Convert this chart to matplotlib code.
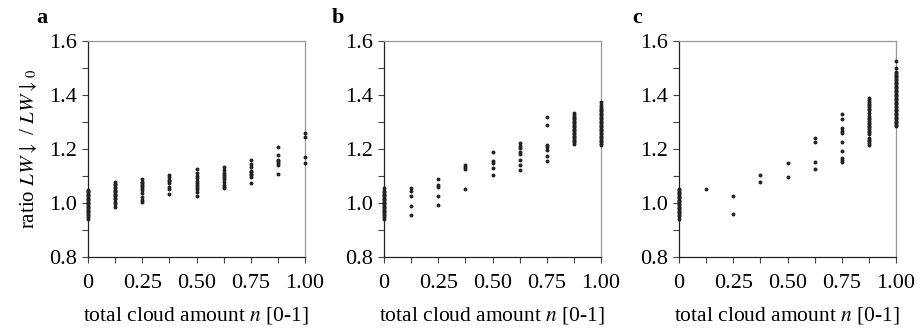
import matplotlib
matplotlib.use("Agg")
import matplotlib.pyplot as plt
from matplotlib.ticker import MultipleLocator, FixedLocator

plt.rcParams['font.family'] = ['Liberation Serif', 'DejaVu Serif']
plt.rcParams['mathtext.fontset'] = 'stix'

# cloud amount in octas -> fraction 0..1
octas = [0, 1, 2, 3, 4, 5, 6, 7, 8]

# panel a: ratio LW/LW0 per cloud class
ratio_a = [
    [0.94, 0.95, 0.955, 0.96, 0.965, 0.97, 0.975, 0.98, 0.985, 0.99, 0.995, 1.0,
     1.005, 1.01, 1.015, 1.02, 1.025, 1.03, 1.035, 1.04, 1.045, 1.05],
    [0.985, 0.995, 1.005, 1.015, 1.02, 1.025, 1.03, 1.035, 1.04, 1.045, 1.05,
     1.055, 1.06, 1.065, 1.07, 1.079],
    [1.005, 1.011, 1.023, 1.036, 1.048, 1.054, 1.062, 1.067, 1.073, 1.079, 1.088],
    [1.032, 1.051, 1.060, 1.073, 1.080, 1.085, 1.095, 1.104],
    [1.026, 1.042, 1.051, 1.060, 1.068, 1.073, 1.083, 1.091, 1.100, 1.110, 1.125],
    [1.054, 1.060, 1.067, 1.079, 1.088, 1.095, 1.102, 1.110, 1.122, 1.135],
    [1.073, 1.095, 1.102, 1.107, 1.115, 1.120, 1.132, 1.144, 1.159],
    [1.107, 1.141, 1.149, 1.155, 1.159, 1.178, 1.206],
    [1.149, 1.172, 1.246, 1.258],
]

# panel b
ratio_b = [
    [0.94, 0.95, 0.955, 0.96, 0.965, 0.97, 0.975, 0.98, 0.985, 0.99, 0.995, 1.0,
     1.005, 1.01, 1.015, 1.02, 1.025, 1.03, 1.035, 1.04, 1.045, 1.054],
    [0.956, 0.989, 1.026, 1.045, 1.054],
    [0.993, 1.027, 1.061, 1.067, 1.088],
    [1.053, 1.125, 1.133, 1.140],
    [1.104, 1.128, 1.147, 1.156, 1.190],
    [1.122, 1.141, 1.159, 1.182, 1.190, 1.204, 1.211, 1.221],
    [1.157, 1.174, 1.196, 1.206, 1.215, 1.289, 1.317],
    [1.219, 1.225, 1.23, 1.235, 1.24, 1.245, 1.25, 1.255, 1.26, 1.265, 1.27,
     1.275, 1.28, 1.285, 1.29, 1.295, 1.30, 1.305, 1.31, 1.315, 1.32, 1.326, 1.332],
    [1.215, 1.22, 1.225, 1.23, 1.235, 1.24, 1.245, 1.25, 1.255, 1.26, 1.265,
     1.27, 1.275, 1.28, 1.285, 1.29, 1.295, 1.30, 1.305, 1.31, 1.315, 1.32,
     1.325, 1.33, 1.335, 1.34, 1.345, 1.35, 1.355, 1.363, 1.374],
]

# panel c
ratio_c = [
    [0.94, 0.952, 0.957, 0.962, 0.967, 0.972, 0.977, 0.982, 0.987, 0.992, 0.997,
     1.002, 1.007, 1.012, 1.017, 1.022, 1.027, 1.032, 1.037, 1.042, 1.047, 1.051],
    [1.051],
    [0.959, 1.027],
    [1.077, 1.104],
    [1.095, 1.147],
    [1.125, 1.153, 1.225, 1.240],
    [1.153, 1.160, 1.165, 1.193, 1.227, 1.261, 1.268, 1.277, 1.310, 1.330],
    [1.215, 1.222, 1.228, 1.234, 1.240, 1.256, 1.262, 1.268, 1.274, 1.280,
     1.286, 1.292, 1.298, 1.304, 1.310, 1.316, 1.322, 1.332, 1.344, 1.350,
     1.356, 1.362, 1.368, 1.374, 1.380, 1.388],
    [1.285, 1.29, 1.295, 1.30, 1.305, 1.31, 1.315, 1.32, 1.325, 1.33, 1.335,
     1.34, 1.345, 1.35, 1.355, 1.36, 1.365, 1.37, 1.375, 1.38, 1.385, 1.39,
     1.395, 1.40, 1.405, 1.41, 1.415, 1.42, 1.425, 1.43, 1.435, 1.44, 1.445,
     1.45, 1.455, 1.46, 1.465, 1.47, 1.475, 1.48, 1.486, 1.499, 1.526],
]

panels = [('a', ratio_a), ('b', ratio_b), ('c', ratio_c)]
x_ticks = [0, 0.25, 0.5, 0.75, 1.0]
x_ticklabels = ['0', '0.25', '0.50', '0.75', '1.00']

fig = plt.figure(figsize=(9.24, 3.31), dpi=100)
lefts_px = [88, 384, 679]
letter_px = [36, 332, 632]

for i, (letter, ratios) in enumerate(panels):
    ax = fig.add_axes([lefts_px[i] / 924, 74 / 331, 217 / 924, 216 / 331])
    for k, vals in zip(octas, ratios):
        ax.scatter([k / 8] * len(vals), vals, s=8, color='#222222',
                   linewidths=0, clip_on=False, zorder=3)
    ax.set_xlim(0, 1)
    ax.set_ylim(0.8, 1.6)
    ax.xaxis.set_major_locator(FixedLocator(x_ticks))
    ax.xaxis.set_minor_locator(MultipleLocator(0.125))
    ax.set_xticklabels(x_ticklabels)
    ax.yaxis.set_major_locator(MultipleLocator(0.2))
    ax.yaxis.set_minor_locator(MultipleLocator(0.1))
    ax.yaxis.set_major_formatter(plt.FormatStrFormatter('%.1f'))
    ax.tick_params(which='both', direction='out', length=4, width=0.8,
                   color='#444444', top=False, right=False)
    ax.tick_params(axis='y', labelsize=16, pad=4)
    ax.tick_params(axis='x', labelsize=16, pad=8)
    for side in ['left', 'bottom']:
        ax.spines[side].set_color('#222222')
        ax.spines[side].set_linewidth(0.9)
    for side in ['top', 'right']:
        ax.spines[side].set_color('#999999')
        ax.spines[side].set_linewidth(0.9)
    ax.set_xlabel(r'total cloud amount $n$ [0-1]', fontsize=15.5, labelpad=9)
    if i == 0:
        ax.set_ylabel(r'ratio $LW{\downarrow}$ / $LW{\downarrow}_0$', fontsize=15,
                      labelpad=7)
    fig.text(letter_px[i] / 924, 1 - 23 / 331, letter, fontsize=16,
             fontweight='bold', ha='left', va='baseline')

fig.savefig('out.png', dpi=100)
